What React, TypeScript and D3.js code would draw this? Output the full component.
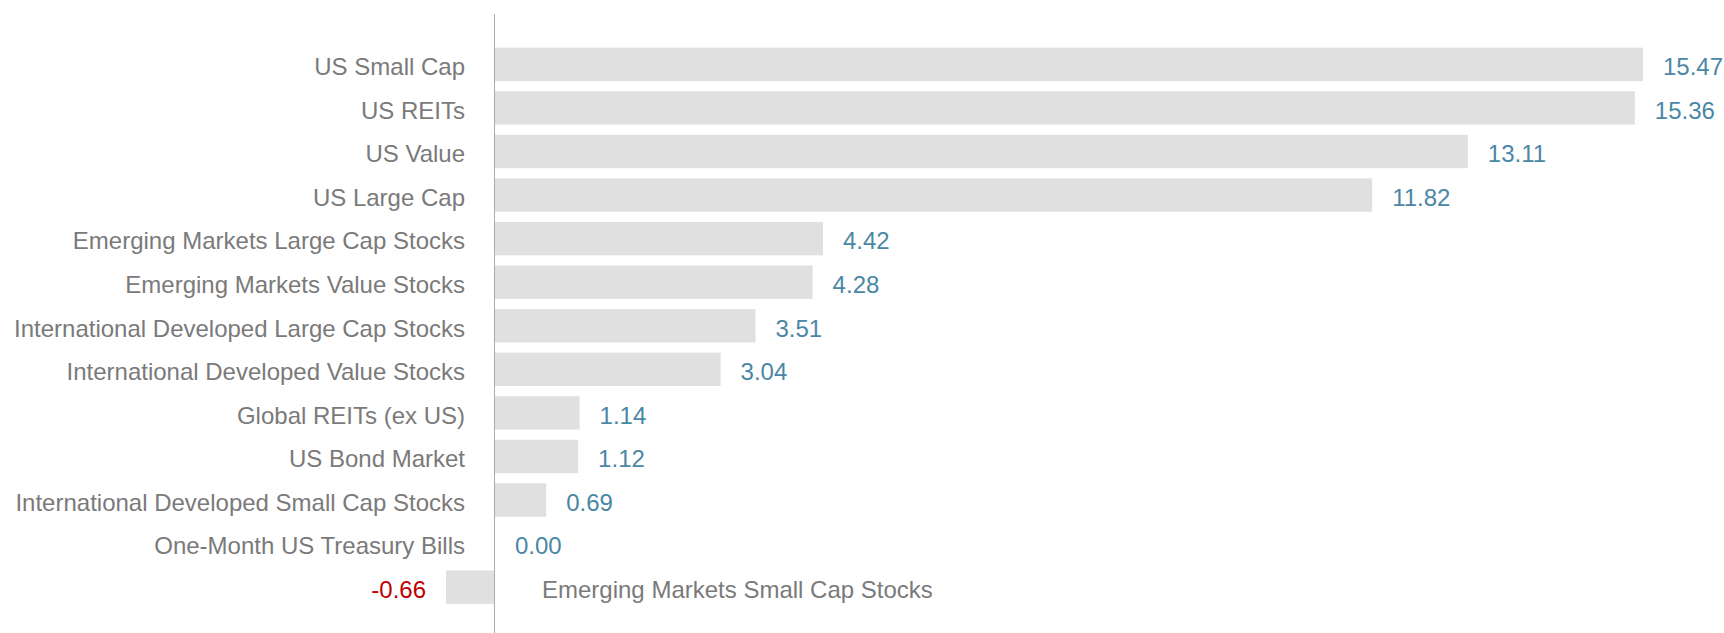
import React from "react";
import * as d3 from "d3";

const categories: string[] = [
  "US Small Cap",
  "US REITs",
  "US Value",
  "US Large Cap",
  "Emerging Markets Large Cap Stocks",
  "Emerging Markets Value Stocks",
  "International Developed Large Cap Stocks",
  "International Developed Value Stocks",
  "Global REITs (ex US)",
  "US Bond Market",
  "International Developed Small Cap Stocks",
  "One-Month US Treasury Bills",
  "Emerging Markets Small Cap Stocks",
];

const values: number[] = [15.47, 15.36, 13.11, 11.82, 4.42, 4.28, 3.51, 3.04, 1.14, 1.12, 0.69, 0.0, -0.66];

const W = 1724;
const H = 633;
const FONT = "'Liberation Sans', Arial, Helvetica, sans-serif";

const fmt = d3
  .formatLocale({ decimal: ".", thousands: ",", grouping: [3], currency: ["$", ""], minus: "-" })
  .format(".2f");

export default function App() {
  const x = d3.scaleLinear().domain([0, d3.max(values) as number]).range([495, 1643]);
  const y = d3
    .scaleBand<string>()
    .domain(categories)
    .range([37.5, 614])
    .paddingInner(0.233)
    .paddingOuter(0.233);
  const bw = y.bandwidth();
  const x0 = x(0);

  return (
    <div style={{ position: "fixed", left: 0, top: 0 }}>
      <svg width={W} height={H} style={{ display: "block", background: "#fff" }}>
        {categories.map((c, i) => {
          const v = values[i];
          const yy = y(c) as number;
          const cy = yy + bw / 2;
          const neg = v < 0;
          const bx = neg ? x(v) : x0;
          const bwid = Math.abs(x(v) - x0);
          return (
            <g key={c}>
              <rect x={bx} y={yy} width={bwid} height={bw} fill="#e0e0e0" />
              <text
                x={neg ? x0 + 47 : x0 - 30}
                y={cy}
                dy="0.45em"
                textAnchor={neg ? "start" : "end"}
                fontFamily={FONT}
                fontSize={24}
                fill="#7a7a7a"
              >
                {c}
              </text>
              <text
                x={neg ? x(v) - 20 : x(v) + 20}
                y={cy}
                dy="0.45em"
                textAnchor={neg ? "end" : "start"}
                fontFamily={FONT}
                fontSize={24}
                fill={neg ? "#c00000" : "#4a87a5"}
              >
                {fmt(v)}
              </text>
            </g>
          );
        })}
        <line x1={x0 - 0.5} x2={x0 - 0.5} y1={14} y2={H} stroke="#ababab" strokeWidth={1} />
      </svg>
    </div>
  );
}
